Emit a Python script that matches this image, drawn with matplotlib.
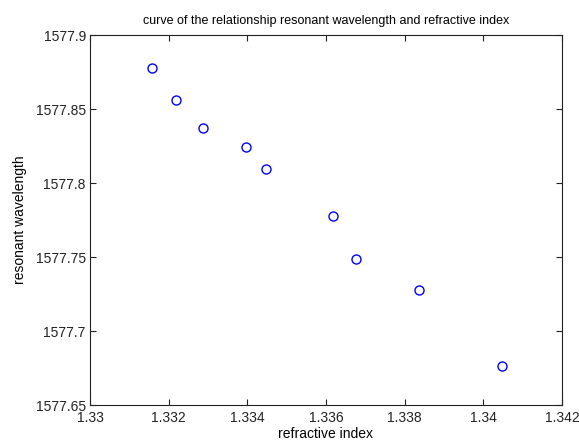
import matplotlib
matplotlib.use("Agg")
import matplotlib.pyplot as plt

# refractive index vs resonant wavelength
refractive_index = [1.33157, 1.33218, 1.33287, 1.33397, 1.33447,
                    1.33618, 1.33676, 1.33837, 1.34047]
resonant_wavelength = [1577.878, 1577.856, 1577.837, 1577.8245, 1577.8093,
                       1577.7777, 1577.7484, 1577.7277, 1577.6766]

x_ticks = [1.33, 1.332, 1.334, 1.336, 1.338, 1.34, 1.342]
x_labels = ["1.33", "1.332", "1.334", "1.336", "1.338", "1.34", "1.342"]
y_ticks = [1577.65, 1577.7, 1577.75, 1577.8, 1577.85, 1577.9]
y_labels = ["1577.65", "1577.7", "1577.75", "1577.8", "1577.85", "1577.9"]

plt.rcParams['font.family'] = ['Liberation Sans', 'DejaVu Sans']
plt.rcParams['font.size'] = 10

fig = plt.figure(figsize=(5.79, 4.46), dpi=100)
ax = fig.add_axes([0.1554, 0.0919, 0.8152, 0.8296])

ax.plot(refractive_index, resonant_wavelength, 'o', markersize=6.5,
        markerfacecolor='none', markeredgecolor='#0000ff', markeredgewidth=1)

ax.set_xlim(1.33, 1.342)
ax.set_ylim(1577.65, 1577.9)
ax.set_xticks(x_ticks)
ax.set_xticklabels(x_labels)
ax.set_yticks(y_ticks)
ax.set_yticklabels(y_labels)

ax.tick_params(direction='in', length=4, width=0.8, top=True, right=True,
               colors='#222222', labelsize=10)
ax.tick_params(axis='x', pad=4)
ax.tick_params(axis='y', pad=3)
for s in ax.spines.values():
    s.set_color('#222222')
    s.set_linewidth(0.8)

ax.set_title("curve of the relationship resonant wavelength and refractive index",
             fontsize=9, pad=8)
ax.set_xlabel("refractive index", labelpad=2)
ax.set_ylabel("resonant wavelength", labelpad=6)

fig.savefig("out.png", dpi=100)
